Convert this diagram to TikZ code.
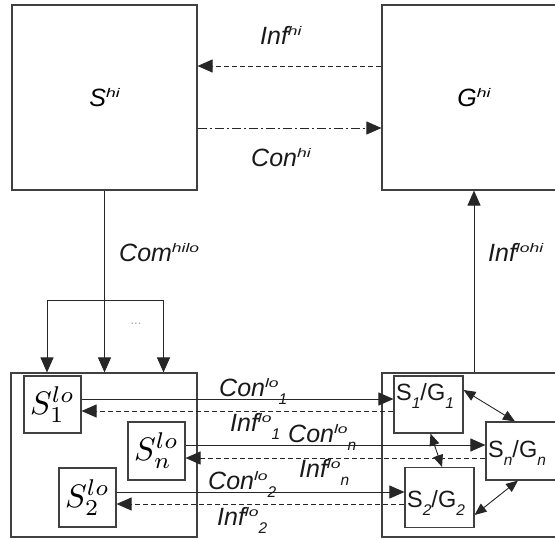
\documentclass[tikz,border=0pt]{standalone}
\usepackage[no-math]{fontspec}
\setmainfont{Liberation Sans}
\usepackage{graphicx}
\usetikzlibrary{arrows.meta}
\newcommand\supt[1]{\raisebox{8.5pt}{\scalebox{1.4}[1]{\fontsize{12.5}{12.5}\selectfont\itshape #1}}}
\newcommand\subt[1]{\raisebox{-8pt}{\fontsize{15.5}{15.5}\selectfont\itshape #1}}
\newcommand\lab[1]{{\fontsize{25}{29}\selectfont\itshape #1}}
\newcommand\sglab[1]{{\fontsize{23.5}{27}\selectfont #1}}
\newcommand\mlab[1]{\scalebox{3.25}{\fontsize{10}{12}\selectfont$#1$}}
\begin{document}
\begin{tikzpicture}[x=1pt,y=-1pt,
  box/.style={draw=black!75,line width=1.1pt,rectangle,inner sep=0pt},
  ln/.style={draw=black!85,line width=0.9pt},
  arr/.style={ln,-{Triangle[length=15pt,width=13pt]}},
  darr/.style={ln,{Triangle[length=12pt,width=10pt]}-{Triangle[length=12pt,width=10pt]}},
  dsh/.style={dash pattern=on 5pt off 3pt},
  dsdot/.style={dash pattern=on 9pt off 3pt on 2pt off 3pt},
  txt/.style={inner sep=0pt,anchor=base west,text=black!90}]
\useasboundingbox (0,0) rectangle (555,539);
% big boxes
\node[box,minimum width=185pt,minimum height=185pt] (Shi) at (104.5,97.5) {\lab{S\supt{hi}}};
\node[box,minimum width=184pt,minimum height=185pt] (Ghi) at (474,97.5) {\lab{G\supt{hi}}};
\node[box,minimum width=186pt,minimum height=164pt] (Lbox) at (104,455) {};
\node[box,minimum width=184pt,minimum height=164pt] (Rbox) at (474,455) {};
% small boxes left
\node[box,minimum width=57pt,minimum height=57pt] (S1lo) at (52.5,404.5) {\mlab{S^{lo}_1}};
\node[box,minimum width=57pt,minimum height=58pt] (Snlo) at (156.5,451) {\mlab{S^{lo}_n}};
\node[box,minimum width=57pt,minimum height=59pt] (S2lo) at (87.5,497.5) {\mlab{S^{lo}_2}};
% small boxes right
\node[box,minimum width=69pt,minimum height=57pt] (SG1) at (428.5,404.5) {};
\node[box,minimum width=80pt,minimum height=58pt] (SGn) at (526,451) {};
\node[box,minimum width=69pt,minimum height=60pt] (SG2) at (439.5,497.5) {};
\node[txt] (SG1t) at (396,400) {\sglab{S\subt{1}/G\subt{1}}};
\node[txt] (SGnt) at (488,457) {\sglab{S\subt{n}/G\subt{n}}};
\node[txt] (SG2t) at (407,507) {\sglab{S\subt{2}/G\subt{2}}};
% top connectors
\draw[arr,dsh] ([yshift=31.5pt]Ghi.west) -- ([yshift=31.5pt]Shi.east);
\draw[arr,dsdot] ([yshift=-30.5pt]Shi.east) -- ([yshift=-30.5pt]Ghi.west);
\node[txt] (Infhi) at (260,44) {\lab{Inf\supt{hi}}};
\node[txt] (Conhi) at (251,166) {\lab{Con\supt{hi}}};
% command down
\draw[arr] (Shi.south) -- (Shi.south |- Lbox.north);
\coordinate (brL) at (47,300);
\coordinate (brR) at (163.5,300);
\draw[ln] (brL) -- (brR);
\draw[arr] (brL) -- (brL |- Lbox.north);
\draw[arr] (brR) -- (brR |- Lbox.north);
\node[inner sep=0pt,text=black!35,font=\fontsize{13}{13}\selectfont] (dots) at (136,324) {...};
\node[txt] (Comhilo) at (119,261) {\lab{Com\supt{hilo}}};
% info up
\draw[arr] (Rbox.north) -- (Ghi.south);
\node[txt] (Inflohi) at (488,261) {\lab{Inf\supt{lohi}}};
% lower connectors
\draw[arr] ([yshift=5.5pt]S1lo.east) -- ([yshift=5.5pt]SG1.west);
\draw[arr,dsh] ([yshift=-6.5pt]SG1.west) -- ([yshift=-6.5pt]S1lo.east);
\draw[arr] ([yshift=6pt]Snlo.east) -- ([yshift=6pt]SGn.west);
\draw[arr,dsh] ([yshift=-7pt]SGn.west) -- ([yshift=-7pt]Snlo.east);
\draw[arr] ([yshift=5.5pt]S2lo.east) -- ([yshift=5.5pt]SG2.west);
\draw[arr,dsh] ([yshift=-6.5pt]SG2.west) -- ([yshift=-6.5pt]S2lo.east);
\node[txt] (Con1) at (219,396) {\lab{Con\supt{lo}\subt{1}}};
\node[txt] (Inf1) at (230,431) {\lab{Inf\supt{lo}\subt{1}}};
\node[txt] (Conn) at (288,442) {\lab{Con\supt{lo}\subt{n}}};
\node[txt] (Infn) at (299,477) {\lab{Inf\supt{lo}\subt{n}}};
\node[txt] (Con2) at (208,489) {\lab{Con\supt{lo}\subt{2}}};
\node[txt] (Inf2) at (217,525) {\lab{Inf\supt{lo}\subt{2}}};
% double arrows
\draw[darr] ([yshift=14.5pt]SG1.east) -- ([xshift=-11pt]SGn.north);
\draw[darr] ([xshift=2pt]SG1.south) -- ([xshift=2.5pt]SG2.north);
\draw[darr] ([xshift=-8pt]SGn.south) -- ([yshift=-17.5pt]SG2.east);
\end{tikzpicture}
\end{document}
